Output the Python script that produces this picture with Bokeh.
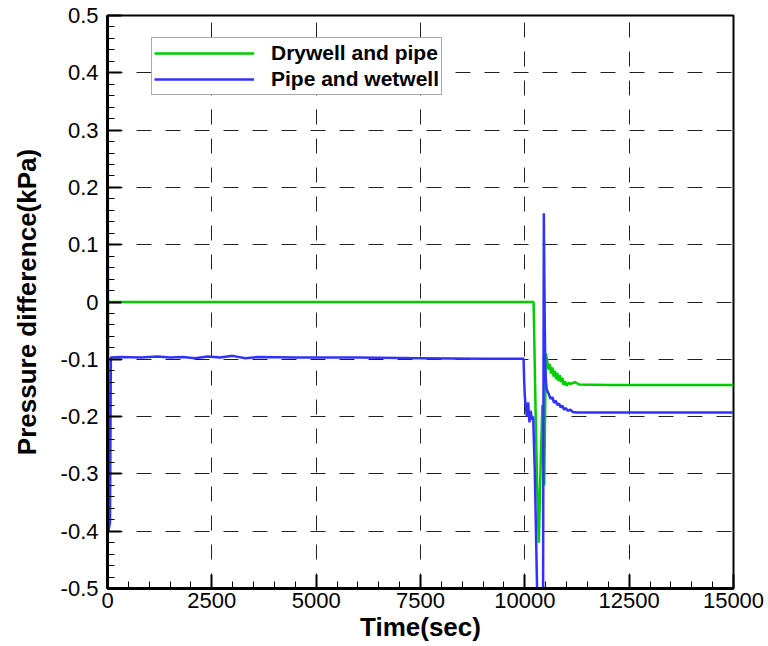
from bokeh.plotting import figure
from bokeh.models import FixedTicker, Range1d, Legend, LegendItem
from bokeh.embed import file_html
from bokeh.resources import INLINE

# ---- data ----
x_ticks = [0, 2500, 5000, 7500, 10000, 12500, 15000]
x_minor = list(range(0, 15001, 500))
y_ticks = [-0.5, -0.4, -0.3, -0.2, -0.1, 0.0, 0.1, 0.2, 0.3, 0.4, 0.5]
y_tick_labels = ["-0.5", "-0.4", "-0.3", "-0.2", "-0.1", "0", "0.1", "0.2", "0.3", "0.4", "0.5"]
y_minor = [round(-0.5 + 0.02 * i, 2) for i in range(51)]

green_t = [0, 10210, 10230, 10260, 10290, 10335, 10380, 10420, 10465, 10485, 10505,
           10540, 10570, 10600, 10630, 10660, 10690, 10720, 10750, 10780, 10810, 10840,
           10870, 10900, 10930, 10960, 11000, 11050, 11100, 11200, 11300, 12000, 13000,
           14000, 15000]
green_v = [0.0, 0.0, -0.08, -0.2, -0.3, -0.42, -0.28, -0.18, -0.32, -0.2, -0.09,
           -0.105, -0.118, -0.108, -0.125, -0.114, -0.13, -0.12, -0.135, -0.124, -0.138, -0.128,
           -0.14, -0.132, -0.145, -0.138, -0.146, -0.141, -0.143, -0.14, -0.144, -0.145, -0.145,
           -0.145, -0.145]

blue_t = [0, 20, 60, 80, 300, 800, 1200, 1500, 1800, 2100, 2400, 2700, 3000, 3300,
          3600, 4500, 6000, 7500, 9000, 9970, 9985, 10000, 10020, 10050, 10080, 10110,
          10140, 10170, 10200, 10240, 10280, 10320, 10360, 10400, 10435, 10455, 10475,
          10490, 10520, 10570, 10615, 10660, 10700, 10740, 10780, 10820, 10860, 10900,
          10940, 10980, 11030, 11090, 11150, 11260, 12000, 13000, 14000, 15000]
blue_v = [0.5, -0.4, -0.385, -0.097, -0.096, -0.097, -0.095, -0.097, -0.096, -0.098,
          -0.095, -0.097, -0.094, -0.098, -0.096, -0.097, -0.097, -0.098, -0.099, -0.099,
          -0.14, -0.165, -0.18, -0.2, -0.175, -0.21, -0.19, -0.205, -0.2, -0.3, -0.45,
          -0.6, -0.6, -0.6, -0.6, 0.155, -0.02, -0.12, -0.152, -0.16, -0.169, -0.166,
          -0.176, -0.172, -0.18, -0.177, -0.184, -0.181, -0.188, -0.185, -0.19, -0.188,
          -0.192, -0.193, -0.193, -0.193, -0.193, -0.193]

FONT = "Liberation Sans"

p = figure(width=768, height=646, output_backend="svg", toolbar_location=None,
           x_range=Range1d(0, 15000), y_range=Range1d(-0.5, 0.5),
           min_border_left=107, min_border_right=35, min_border_top=15, min_border_bottom=58)
p.background_fill_color = "white"
p.border_fill_color = "white"
p.outline_line_color = "black"
p.outline_line_width = 2

l1 = p.line(green_t, green_v, line_color="#00cc00", line_width=2.5)
l2 = p.line(blue_t, blue_v, line_color="#3232ff", line_width=2.5)

for ax in (p.xaxis[0], p.yaxis[0]):
    ax.axis_line_width = 3
    ax.axis_line_color = "black"
    ax.major_tick_in = 14
    ax.major_tick_out = 0
    ax.minor_tick_in = 7
    ax.minor_tick_out = 0
    ax.major_tick_line_width = 2
    ax.minor_tick_line_width = 1
    ax.major_label_text_font = FONT
    ax.major_label_text_font_size = "22px"
    ax.major_label_text_color = "black"
    ax.axis_label_text_font = FONT
    ax.axis_label_text_font_size = "26px"
    ax.axis_label_text_font_style = "bold"
    ax.axis_label_text_color = "black"

p.xaxis.ticker = FixedTicker(ticks=x_ticks, minor_ticks=x_minor)
p.yaxis.ticker = FixedTicker(ticks=y_ticks, minor_ticks=y_minor)
p.yaxis.major_label_overrides = {t: s for t, s in zip(y_ticks, y_tick_labels)}
p.xaxis.axis_label = "Time(sec)"
p.yaxis.axis_label = "Pressure difference(kPa)"
p.xaxis.major_label_standoff = 4
p.xaxis.axis_label_standoff = 1
p.yaxis.major_label_standoff = 9
p.yaxis.axis_label_standoff = 16

for g in (p.xgrid[0], p.ygrid[0]):
    g.grid_line_color = "#222222"
    g.grid_line_width = 1
    g.grid_line_dash = "15 14"

legend = Legend(items=[LegendItem(label="Drywell and pipe", renderers=[l1]),
                       LegendItem(label="Pipe and wetwell", renderers=[l2])],
                location=(44, 493))
legend.padding = 2
legend.margin = 0
legend.spacing = 0
legend.glyph_width = 100
legend.glyph_height = 26
legend.label_height = 26
legend.label_standoff = 17
legend.label_text_font = FONT
legend.label_text_font_size = "21px"
legend.label_text_font_style = "bold"
legend.label_text_color = "black"
legend.border_line_color = "#555555"
legend.border_line_width = 1
legend.background_fill_color = "white"
legend.background_fill_alpha = 1.0
p.add_layout(legend)

open("out.html", "w").write(file_html(p, INLINE))
